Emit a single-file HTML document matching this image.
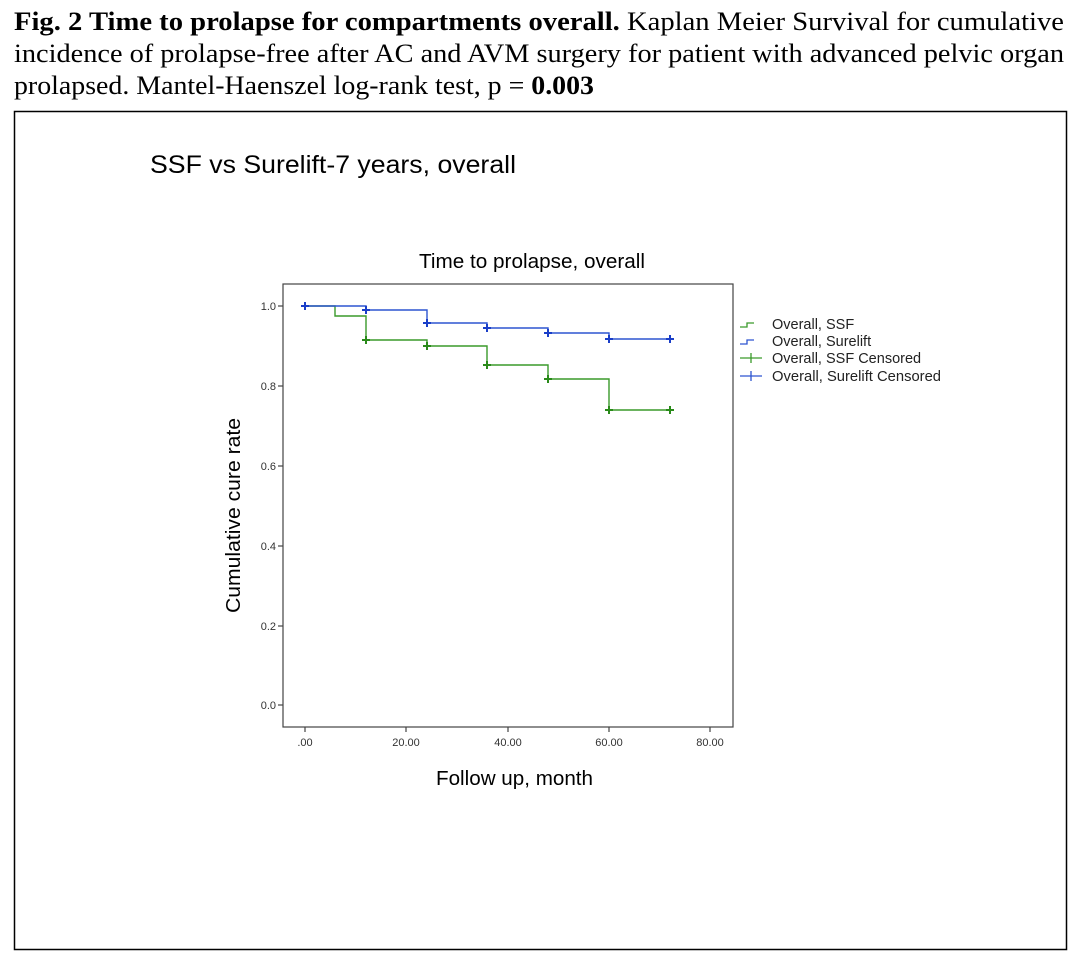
<!DOCTYPE html>
<html><head><meta charset="utf-8"><style>
html,body{margin:0;padding:0;background:#fff;}
svg{display:block;}
</style></head><body>
<svg width="1080" height="953" viewBox="0 0 1080 953" xmlns="http://www.w3.org/2000/svg">
<rect width="1080" height="953" fill="#fff"/>
<g font-family="Liberation Serif, serif" font-size="26" fill="#000">
<text x="14" y="30" textLength="1050" lengthAdjust="spacingAndGlyphs"><tspan font-weight="bold">Fig. 2 Time to prolapse for compartments overall.</tspan> Kaplan Meier Survival for cumulative</text>
<text x="14" y="62" textLength="1050" lengthAdjust="spacingAndGlyphs">incidence of prolapse-free after AC and AVM surgery for patient with advanced pelvic organ</text>
<text x="14" y="94" textLength="580" lengthAdjust="spacingAndGlyphs">prolapsed. Mantel-Haenszel log-rank test, p = <tspan font-weight="bold">0.003</tspan></text>
</g>
<rect x="14.5" y="111.5" width="1052" height="838" fill="none" stroke="#000" stroke-width="1.5"/>
<g font-family="Liberation Sans, sans-serif" fill="#000">
<text x="150" y="173" font-size="25" textLength="366" lengthAdjust="spacingAndGlyphs">SSF vs Surelift-7 years, overall</text>
<text x="419" y="268" font-size="20" textLength="226" lengthAdjust="spacingAndGlyphs">Time to prolapse, overall</text>
<text x="436" y="785" font-size="20" textLength="157" lengthAdjust="spacingAndGlyphs">Follow up, month</text>
<text transform="translate(240,613) rotate(-90)" font-size="20" textLength="195" lengthAdjust="spacingAndGlyphs">Cumulative cure rate</text>
</g>
<rect x="283" y="284" width="450" height="443" fill="none" stroke="#444" stroke-width="1.2"/>
<g stroke="#444" stroke-width="1.2">
<line x1="278" y1="306" x2="283" y2="306"/><line x1="278" y1="386" x2="283" y2="386"/>
<line x1="278" y1="466" x2="283" y2="466"/><line x1="278" y1="546" x2="283" y2="546"/>
<line x1="278" y1="626" x2="283" y2="626"/><line x1="278" y1="705" x2="283" y2="705"/>
<line x1="305" y1="727" x2="305" y2="732"/><line x1="406" y1="727" x2="406" y2="732"/>
<line x1="508" y1="727" x2="508" y2="732"/><line x1="609" y1="727" x2="609" y2="732"/>
<line x1="710" y1="727" x2="710" y2="732"/>
</g>
<g font-family="Liberation Sans, sans-serif" font-size="11" fill="#333">
<g text-anchor="end">
<text x="276" y="310">1.0</text><text x="276" y="390">0.8</text><text x="276" y="470">0.6</text>
<text x="276" y="550">0.4</text><text x="276" y="630">0.2</text><text x="276" y="709">0.0</text>
</g>
<g text-anchor="middle">
<text x="305" y="746">.00</text><text x="406" y="746">20.00</text><text x="508" y="746">40.00</text>
<text x="609" y="746">60.00</text><text x="710" y="746">80.00</text>
</g>
</g>
<polyline fill="none" stroke="#3a9a2a" stroke-width="1.4" points="305,306 335,306 335,316 366,316 366,340 427,340 427,346 487,346 487,365 548,365 548,379 609,379 609,410 670,410"/>
<polyline fill="none" stroke="#2d55d0" stroke-width="1.4" points="305,306 366,306 366,310 427,310 427,323 487,323 487,328 548,328 548,333 609,333 609,339 670,339"/>
<g stroke="#2a8a1a" stroke-width="2">
<path d="M366,336v8M362,340h8 M427,342v8M423,346h8 M487,361v8M483,365h8 M548,375v8M544,379h8 M609,406v8M605,410h8 M670,406v8M666,410h8"/>
</g>
<g stroke="#1a3ec8" stroke-width="2">
<path d="M305,302v8M301,306h8 M366,306v8M362,310h8 M427,319v8M423,323h8 M487,324v8M483,328h8 M548,329v8M544,333h8 M609,335v8M605,339h8 M670,335v8M666,339h8"/>
</g>
<g font-family="Liberation Sans, sans-serif" font-size="14.5" fill="#222">
<path d="M740,327h7v-4h7" fill="none" stroke="#3a9a2a" stroke-width="1.3"/>
<text x="772" y="329">Overall, SSF</text>
<path d="M740,344h7v-4h7" fill="none" stroke="#2d55d0" stroke-width="1.3"/>
<text x="772" y="346">Overall, Surelift</text>
<path d="M740,358h22M751,353v10" stroke="#3a9a2a" stroke-width="1.3"/>
<text x="772" y="363">Overall, SSF Censored</text>
<path d="M740,376h22M751,371v10" stroke="#2d55d0" stroke-width="1.3"/>
<text x="772" y="381" textLength="169" lengthAdjust="spacingAndGlyphs">Overall, Surelift Censored</text>
</g>
</svg>
</body></html>
